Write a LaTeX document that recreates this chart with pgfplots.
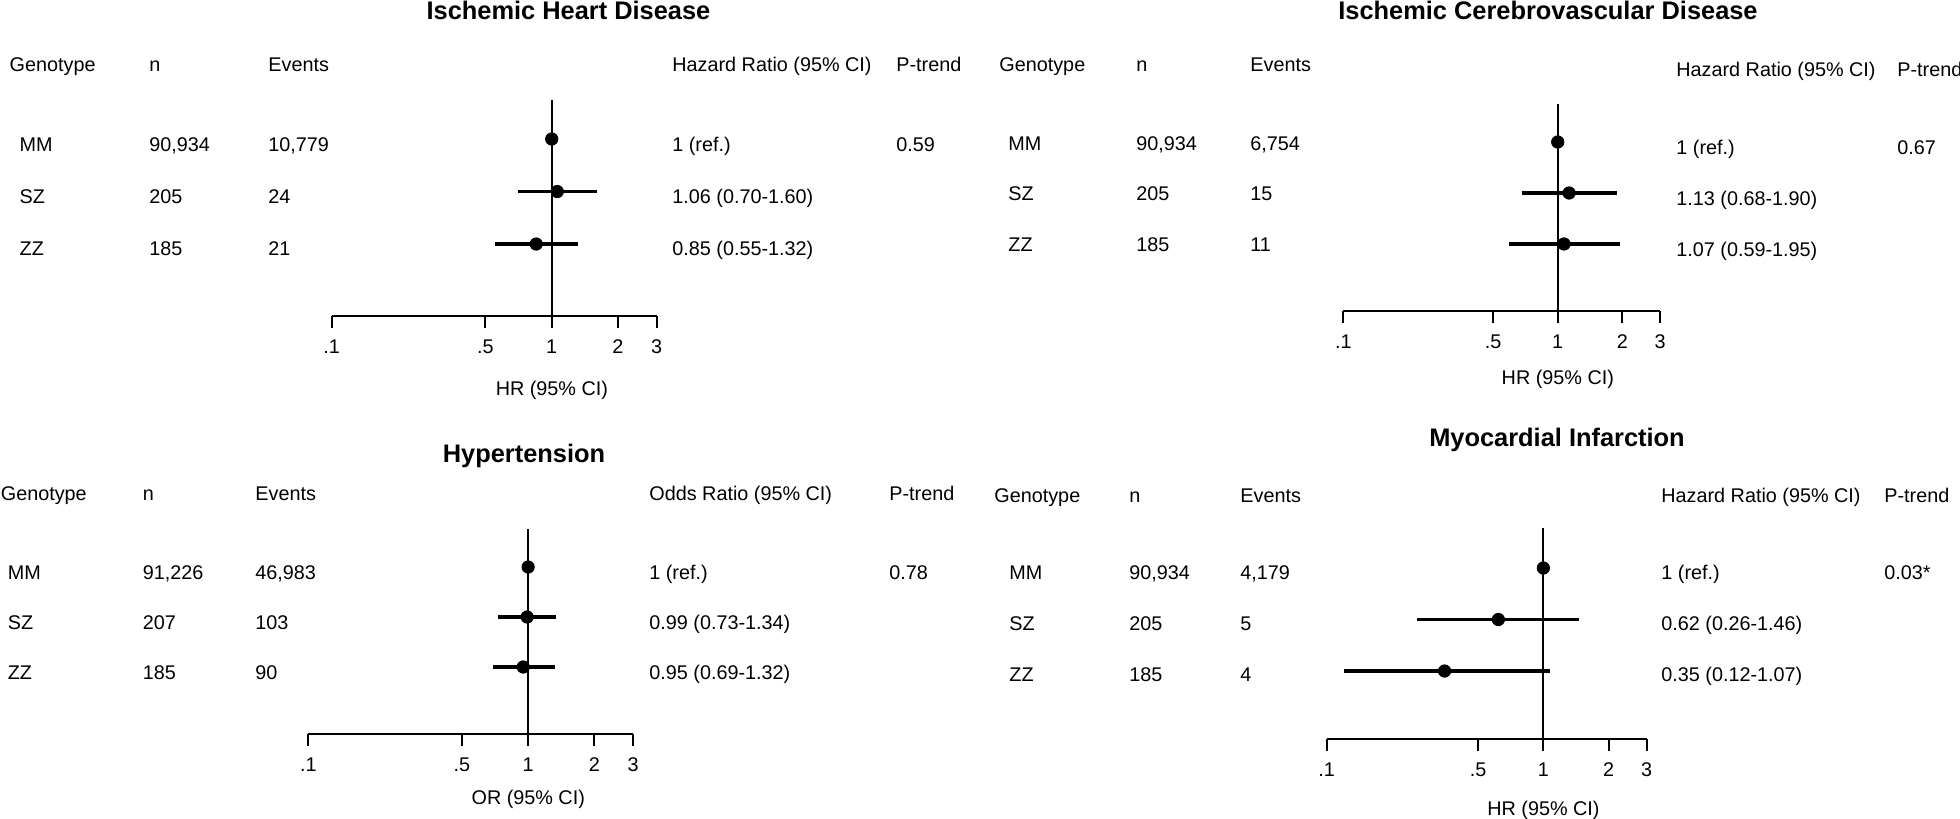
\documentclass[border=0pt]{standalone}
\usepackage{pgfplots}
\pgfplotsset{compat=1.18}
\usepackage{pgfplotstable}
\usepackage{fontspec}
\setmainfont{Liberation Sans}
\newcommand\fsz{\fontsize{9.9pt}{11pt}\selectfont}
\newcommand\ftz{\fontsize{12.7pt}{14pt}\selectfont\bfseries}

% row: 3 = MM, 2 = SZ, 1 = ZZ
\pgfplotstableread{
row est lo hi
3 1.00 1.00 1.00
2 1.06 0.70 1.60
1 0.85 0.55 1.32
}\tIHD
\pgfplotstableread{
row est lo hi
3 1.00 1.00 1.00
2 1.13 0.68 1.90
1 1.07 0.59 1.95
}\tICVD
\pgfplotstableread{
row est lo hi
3 1.00 1.00 1.00
2 0.99 0.73 1.34
1 0.95 0.69 1.32
}\tHT
\pgfplotstableread{
row est lo hi
3 1.00 1.00 1.00
2 0.62 0.26 1.46
1 0.35 0.12 1.07
}\tMI

\pgfplotsset{every axis/.append style={
    xmin=0.1, xmax=3,
    scale only axis,
    axis x line*=bottom, axis y line=none,
    xtick={0.1,0.5,1,2,3}, xticklabels={.1,.5,1,2,3},
    xtick align=outside, major tick length=6pt,
    tick style={black, line width=1pt},
    axis line style={black, line width=1pt},
    ytick=\empty,
    clip=false,
    tick label style={font=\fsz},
    xticklabel style={anchor=base, yshift=-12.5pt, inner sep=0pt},
    label style={font=\fsz},
    xlabel style={at={(rel axis cs:0.6774,0)}, anchor=base, inner sep=0pt},
  }}
\tikzset{
  fpci/.style={black, line width=1.6pt},
  fpdot/.style={black, mark=*, mark size=3.1pt},
  fpref/.style={black, line width=1pt},
}
\newcommand\TT[3]{\node[anchor=base west, font=\fsz, inner sep=0pt] at (#1,#2) {#3};}
\newcommand\TI[3]{\node[anchor=base, font=\ftz, inner sep=0pt] at (#1,#2) {#3};}

\begin{document}
\begin{tikzpicture}
\path[use as bounding box] (0pt,0pt) rectangle (980pt,-409.5pt);

% ---------- Panel 1: Ischemic Heart Disease ----------
\begin{semilogxaxis}[at={(165.85pt,-158pt)}, anchor=south west,
  width=162.5pt, height=108pt, ymin=-0.371, ymax=3.743,
  xlabel={HR (95\% CI)}, xlabel style={yshift=-39.5pt}]
\addplot[fpci] coordinates {(0.70,2) (1.60,2)};
\addplot[fpci] coordinates {(0.55,1) (1.32,1)};
\addplot[fpref] coordinates {(1,-0.371) (1,3.743)};
\addplot[fpdot, only marks] table[x=est,y=row] {\tIHD};
\end{semilogxaxis}

% ---------- Panel 2: Ischemic Cerebrovascular Disease ----------
\begin{semilogxaxis}[at={(671.65pt,-155.5pt)}, anchor=south west,
  width=158.35pt, height=103.5pt, ymin=-0.314, ymax=3.745,
  xlabel={HR (95\% CI)}, xlabel style={yshift=-36.5pt}]
\addplot[fpci] coordinates {(0.68,2) (1.90,2)};
\addplot[fpci] coordinates {(0.59,1) (1.95,1)};
\addplot[fpref] coordinates {(1,-0.314) (1,3.745)};
\addplot[fpdot, only marks] table[x=est,y=row] {\tICVD};
\end{semilogxaxis}

% ---------- Panel 3: Hypertension ----------
\begin{semilogxaxis}[at={(154.15pt,-367pt)}, anchor=south west,
  width=162.35pt, height=102.5pt, ymin=-0.34, ymax=3.76,
  xlabel={OR (95\% CI)}, xlabel style={yshift=-35pt}]
\addplot[fpci] coordinates {(0.73,2) (1.34,2)};
\addplot[fpci] coordinates {(0.69,1) (1.32,1)};
\addplot[fpref] coordinates {(1,-0.34) (1,3.76)};
\addplot[fpdot, only marks] table[x=est,y=row] {\tHT};
\end{semilogxaxis}

% ---------- Panel 4: Myocardial Infarction ----------
\begin{semilogxaxis}[at={(663.35pt,-369.5pt)}, anchor=south west,
  width=160pt, height=105.5pt, ymin=-0.32, ymax=3.777,
  xlabel={HR (95\% CI)}, xlabel style={yshift=-38pt}]
\addplot[fpci] coordinates {(0.26,2) (1.46,2)};
\addplot[fpci] coordinates {(0.12,1) (1.07,1)};
\addplot[fpref] coordinates {(1,-0.32) (1,3.777)};
\addplot[fpdot, only marks] table[x=est,y=row] {\tMI};
\end{semilogxaxis}

\begin{scope}[x=0.5pt, y=-0.5pt]
% Panel 1 text
\TI{568.5}{19}{Ischemic Heart Disease}
\TT{9.3}{71}{Genotype} \TT{149}{71}{n} \TT{268}{71}{Events}
\TT{672}{71}{Hazard Ratio (95\% CI)} \TT{896}{71}{P-trend}
\TT{19.3}{151}{MM} \TT{149}{151}{90,934} \TT{268}{151}{10,779} \TT{672}{151}{1 (ref.)} \TT{896}{151}{0.59}
\TT{19.3}{203}{SZ} \TT{149}{203}{205} \TT{268}{203}{24} \TT{672}{203}{1.06 (0.70-1.60)}
\TT{19.3}{255}{ZZ} \TT{149}{255}{185} \TT{268}{255}{21} \TT{672}{255}{0.85 (0.55-1.32)}

% Panel 2 text
\TI{1548}{19}{Ischemic Cerebrovascular Disease}
\TT{999}{71}{Genotype} \TT{1136}{71}{n} \TT{1250}{71}{Events}
\TT{1676}{76}{Hazard Ratio (95\% CI)} \TT{1897}{76}{P-trend}
\TT{1008}{150}{MM} \TT{1136}{150}{90,934} \TT{1250}{150}{6,754}
\TT{1008}{200}{SZ} \TT{1136}{200}{205} \TT{1250}{200}{15}
\TT{1008}{251}{ZZ} \TT{1136}{251}{185} \TT{1250}{251}{11}
\TT{1676}{154}{1 (ref.)} \TT{1897}{154}{0.67}
\TT{1676}{205}{1.13 (0.68-1.90)}
\TT{1676}{256}{1.07 (0.59-1.95)}

% Panel 3 text
\TI{524}{462}{Hypertension}
\TT{0.5}{500}{Genotype} \TT{142.5}{500}{n} \TT{255}{500}{Events}
\TT{649}{500}{Odds Ratio (95\% CI)} \TT{889}{500}{P-trend}
\TT{7.5}{579}{MM} \TT{142.5}{579}{91,226} \TT{255}{579}{46,983} \TT{649}{579}{1 (ref.)} \TT{889}{579}{0.78}
\TT{7.5}{629}{SZ} \TT{142.5}{629}{207} \TT{255}{629}{103} \TT{649}{629}{0.99 (0.73-1.34)}
\TT{7.5}{679}{ZZ} \TT{142.5}{679}{185} \TT{255}{679}{90} \TT{649}{679}{0.95 (0.69-1.32)}

% Panel 4 text
\TI{1557}{446}{Myocardial Infarction}
\TT{994}{502}{Genotype} \TT{1129}{502}{n} \TT{1240}{502}{Events}
\TT{1661}{502}{Hazard Ratio (95\% CI)} \TT{1884}{502}{P-trend}
\TT{1009}{579}{MM} \TT{1129}{579}{90,934} \TT{1240}{579}{4,179} \TT{1661}{579}{1 (ref.)} \TT{1884}{579}{0.03*}
\TT{1009}{630}{SZ} \TT{1129}{630}{205} \TT{1240}{630}{5} \TT{1661}{630}{0.62 (0.26-1.46)}
\TT{1009}{681}{ZZ} \TT{1129}{681}{185} \TT{1240}{681}{4} \TT{1661}{681}{0.35 (0.12-1.07)}
\end{scope}
\end{tikzpicture}
\end{document}
